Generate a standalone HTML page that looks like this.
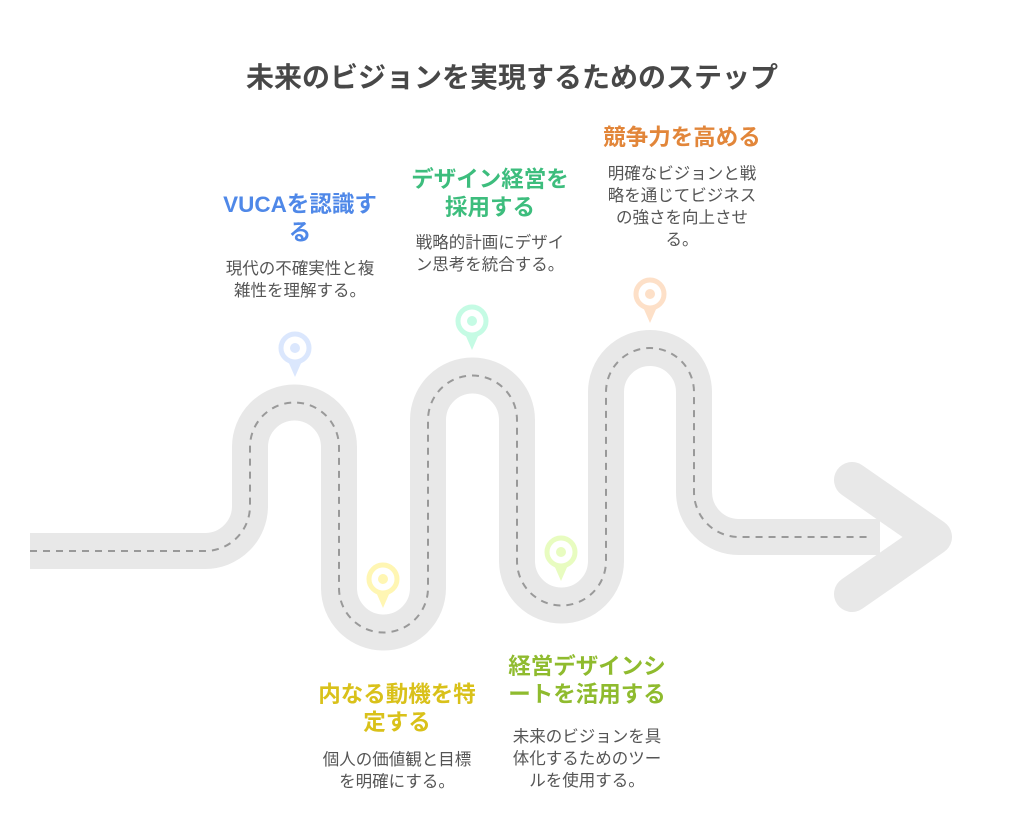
<!DOCTYPE html>
<html><head><meta charset="utf-8"><style>
body{margin:0;background:#fff;width:1024px;height:833px;position:relative;overflow:hidden;font-family:"Liberation Sans","Noto Sans CJK JP",sans-serif}
.t{position:absolute;text-align:center;white-space:nowrap}
.h{font-weight:bold;font-size:22.5px;line-height:28px}
.b{font-size:16.5px;line-height:22px;color:#555}
</style></head><body>
<svg width="1024" height="833" style="position:absolute;left:0;top:0">
<g fill="none" stroke="#e8e8e8" stroke-width="36">
<path d="M30 551 H205 A45 45 0 0 0 250 506 V447 A44.5 44.5 0 0 1 339 447 V588 A44.5 44.5 0 0 0 428 588 V420 A44.5 44.5 0 0 1 517 420 V561 A44.5 44.5 0 0 0 606 561 V392 A44 44 0 0 1 694 392 V492 A45 45 0 0 0 739 537 H880"/>
<path d="M852 480 L934 537 L852 594" stroke-linecap="round" stroke-linejoin="round"/>
</g>
<path d="M30 551 H205 A45 45 0 0 0 250 506 V447 A44.5 44.5 0 0 1 339 447 V588 A44.5 44.5 0 0 0 428 588 V420 A44.5 44.5 0 0 1 517 420 V561 A44.5 44.5 0 0 0 606 561 V392 A44 44 0 0 1 694 392 V492 A45 45 0 0 0 739 537 H870" fill="none" stroke="#999" stroke-width="2" stroke-dasharray="7 6"/>
<g>
<g transform="translate(295,348)"><path d="M-7 13 L0 29 L7 13Z" fill="#dbe7fd"/><circle r="14" fill="none" stroke="#dbe7fd" stroke-width="5"/><circle r="5" fill="#dbe7fd"/></g>
<g transform="translate(383,579)"><path d="M-7 13 L0 29 L7 13Z" fill="#fff6b3"/><circle r="14" fill="none" stroke="#fff6b3" stroke-width="5"/><circle r="5" fill="#fff6b3"/></g>
<g transform="translate(472,321)"><path d="M-7 13 L0 29 L7 13Z" fill="#c5fbe4"/><circle r="14" fill="none" stroke="#c5fbe4" stroke-width="5"/><circle r="5" fill="#c5fbe4"/></g>
<g transform="translate(561,552)"><path d="M-7 13 L0 29 L7 13Z" fill="#e8fcc0"/><circle r="14" fill="none" stroke="#e8fcc0" stroke-width="5"/><circle r="5" fill="#e8fcc0"/></g>
<g transform="translate(650,294)"><path d="M-7 13 L0 29 L7 13Z" fill="#fde0c8"/><circle r="14" fill="none" stroke="#fde0c8" stroke-width="5"/><circle r="5" fill="#fde0c8"/></g>
</g>
</svg>
<div class="t" style="left:0;width:1024px;top:59px;font-size:28px;font-weight:bold;color:#484848;line-height:38px">未来のビジョンを実現するためのステップ</div>

<div class="t h" style="left:200px;width:200px;top:191px;color:#4f88e8">VUCAを認識す<br>る</div>
<div class="t b" style="left:200px;width:200px;top:258px">現代の不確実性と複<br>雑性を理解する。</div>

<div class="t h" style="left:390px;width:200px;top:166px;color:#3dbd7d">デザイン経営を<br>採用する</div>
<div class="t b" style="left:390px;width:200px;top:232px">戦略的計画にデザイ<br>ン思考を統合する。</div>

<div class="t h" style="left:582px;width:200px;top:124px;color:#e2863a">競争力を高める</div>
<div class="t b" style="left:582px;width:200px;top:163px">明確なビジョンと戦<br>略を通じてビジネス<br>の強さを向上させ<br>る。</div>

<div class="t h" style="left:297px;width:200px;top:681px;color:#d9c11a">内なる動機を特<br>定する</div>
<div class="t b" style="left:297px;width:200px;top:749px">個人の価値観と目標<br>を明確にする。</div>

<div class="t h" style="left:487px;width:200px;top:653px;color:#8fbb2e">経営デザインシ<br>ートを活用する</div>
<div class="t b" style="left:487px;width:200px;top:726px">未来のビジョンを具<br>体化するためのツー<br>ルを使用する。</div>
</body></html>
